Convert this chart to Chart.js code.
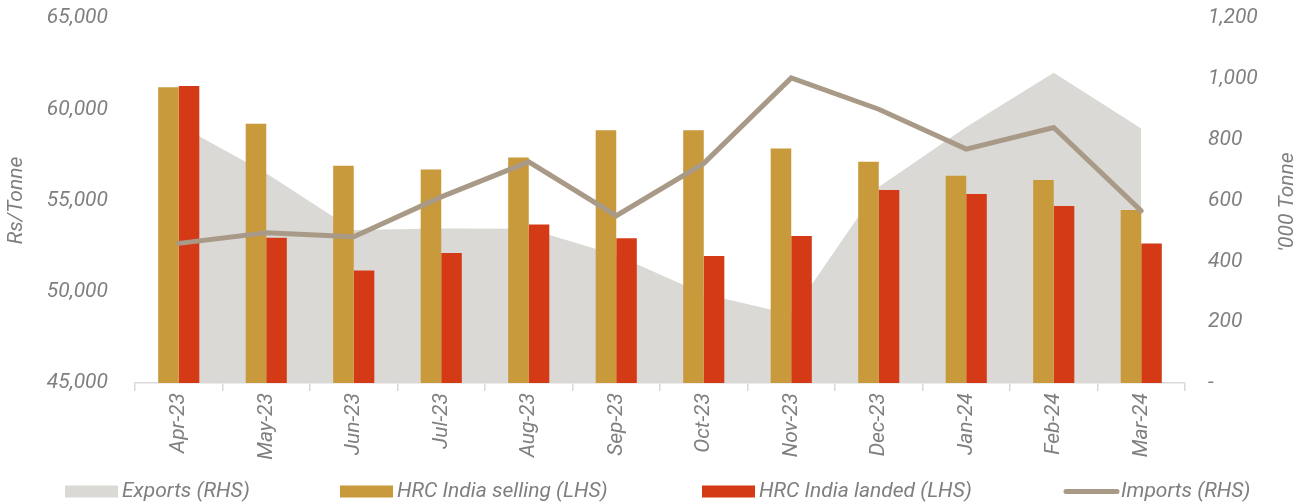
<!DOCTYPE html>
<html><head><meta charset="utf-8">
<script src="https://cdn.jsdelivr.net/npm/chart.js@4"></script>
<style>html,body{margin:0;padding:0;background:#fff}#wrap{width:1308px;height:504px;position:relative}</style>
</head><body><div id="wrap"><canvas id="c" width="1308" height="504"></canvas></div>
<script>
const categories = ['Apr-23','May-23','Jun-23','Jul-23','Aug-23','Sep-23','Oct-23','Nov-23','Dec-23','Jan-24','Feb-24','Mar-24'];
const hrcSelling = [61200, 59200, 56900, 56700, 57350, 58850, 58850, 57850, 57120, 56360, 56120, 54480];
const hrcLanded  = [61270, 52960, 51170, 52120, 53680, 52930, 51960, 53050, 55580, 55350, 54700, 52650];
const exportsRhs = [848, 690, 503, 508, 507, 421, 293, 226, 644, 842, 1020, 837];
const importsRhs = [459, 494, 481, 612, 727, 550, 722, 1003, 900, 769, 840, 566];
const leftAxis = {min: 45000, max: 65000, step: 5000, title: 'Rs/Tonne'};
const rightAxis = {min: 0, max: 1200, step: 200, title: "'000 Tonne"};

const TXT = '#7f7f7f';
const FONT = {family: 'Roboto', size: 21, style: 'italic'};
const COL = {area: '#dad9d6', gold: '#c89a3b', red: '#d53a17', line: '#a89a87'};

const extras = {
  id: 'extras',
  afterDraw(chart) {
    const ctx = chart.ctx;
    ctx.save();
    ctx.font = 'italic 21px Roboto';
    ctx.fillStyle = TXT;
    ctx.textBaseline = 'middle';
    ctx.save();
    ctx.translate(1288, 202);
    ctx.rotate(-Math.PI / 2);
    ctx.textAlign = 'center';
    ctx.fillText(rightAxis.title, 0, 0);
    ctx.restore();
    const ds = chart.data.datasets;
    const boxX = [65, 340, 702, 1064];
    const cy = 491.5;
    ds.forEach((d, i) => {
      const x = boxX[i];
      if (d.type === 'line' && !d.fill) {
        ctx.save();
        ctx.strokeStyle = d.borderColor;
        ctx.lineWidth = 5;
        ctx.lineCap = 'round';
        ctx.beginPath();
        ctx.moveTo(x + 2, cy); ctx.lineTo(x + 53, cy);
        ctx.stroke();
        ctx.restore();
      } else {
        ctx.fillStyle = d.backgroundColor;
        ctx.fillRect(x, cy - 6, 53, 12);
      }
      ctx.fillStyle = TXT;
      ctx.textAlign = 'left';
      ctx.fillText(d.label, x + 57, cy);
    });
    ctx.restore();
  }
};

const noPad = s => { s.paddingTop = 0; s.paddingBottom = 0; };

new Chart(document.getElementById('c'), {
  data: {
    labels: categories,
    datasets: [
      {type: 'line', label: 'Exports (RHS)', data: exportsRhs, yAxisID: 'y1', fill: 'origin',
       backgroundColor: COL.area, borderColor: COL.area, borderWidth: 0, pointRadius: 0, tension: 0, order: 3},
      {type: 'bar', label: 'HRC India selling (LHS)', data: hrcSelling, yAxisID: 'y', backgroundColor: COL.gold,
       categoryPercentage: 0.47, barPercentage: 1.0, order: 2},
      {type: 'bar', label: 'HRC India landed (LHS)', data: hrcLanded, yAxisID: 'y', backgroundColor: COL.red,
       categoryPercentage: 0.47, barPercentage: 1.0, order: 2},
      {type: 'line', label: 'Imports (RHS)', data: importsRhs, yAxisID: 'y1', fill: false,
       borderColor: COL.line, backgroundColor: COL.line, borderWidth: 5, pointRadius: 0, tension: 0,
       borderCapStyle: 'round', order: 0}
    ]
  },
  options: {
    responsive: false, animation: false, devicePixelRatio: 1,
    layout: {padding: {top: 18, bottom: 0, left: 0, right: 0}},
    plugins: {legend: {display: false}, tooltip: {enabled: false}},
    scales: {
      x: {
        offset: true,
        grid: {display: true, drawOnChartArea: false, drawTicks: true, tickLength: 8, color: '#d9d9d9', offset: true, lineWidth: 1.5},
        border: {display: true, color: '#d9d9d9', width: 1.5},
        ticks: {color: TXT, font: FONT, minRotation: 90, maxRotation: 90, padding: 2, autoSkip: false},
        afterFit(s) { s.height = 121; s.paddingLeft = 0; s.paddingRight = 0; }
      },
      y: {
        position: 'left', min: leftAxis.min, max: leftAxis.max,
        grid: {display: false, drawTicks: false}, border: {display: false},
        ticks: {stepSize: leftAxis.step, color: TXT, font: FONT, padding: 27,
                callback: v => v.toLocaleString('en-US')},
        title: {display: true, text: leftAxis.title, color: TXT, font: FONT, padding: {top: 4, bottom: 0}},
        afterFit(s) { s.width = 135; noPad(s); }
      },
      y1: {
        position: 'right', min: rightAxis.min, max: rightAxis.max,
        grid: {display: false, drawTicks: false}, border: {display: false},
        ticks: {stepSize: rightAxis.step, color: TXT, font: FONT, padding: 23,
                callback: v => v === 0 ? '-' : v.toLocaleString('en-US')},
        afterFit(s) { s.width = 123; noPad(s); }
      }
    }
  },
  plugins: [extras]
});
</script></body></html>
